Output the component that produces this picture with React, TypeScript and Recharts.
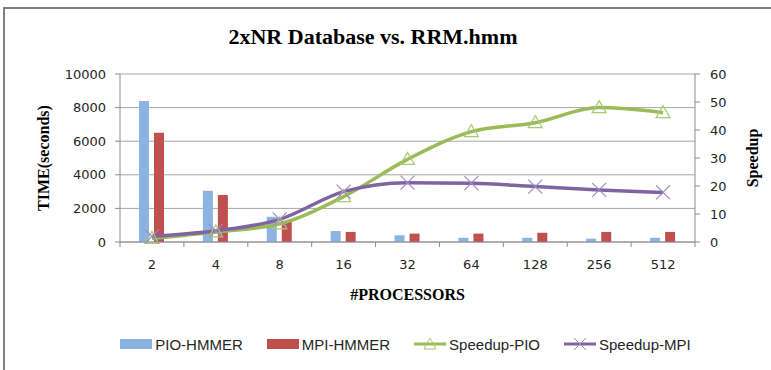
import React from "react";
import {
  ComposedChart,
  Bar,
  Line,
  XAxis,
  YAxis,
  CartesianGrid,
  Legend,
} from "recharts";

const processors = ["2", "4", "8", "16", "32", "64", "128", "256", "512"];
const pioHmmer = [8400, 3050, 1500, 650, 400, 250, 250, 200, 250];
const mpiHmmer = [6500, 2800, 1250, 600, 500, 500, 550, 600, 600];
const speedupPio = [1.3, 3.6, 6.5, 16.2, 29.5, 39.4, 42.6, 48, 46.2];
const speedupMpi = [2, 4, 8.1, 18, 21.2, 21, 19.8, 18.6, 17.7];
const timeTicks = [0, 2000, 4000, 6000, 8000, 10000];
const speedTicks = [0, 10, 20, 30, 40, 50, 60];
const seriesOrder = ["pio", "mpi", "spio", "smpi"];

const data = processors.map((p, i) => ({
  p,
  pio: pioHmmer[i],
  mpi: mpiHmmer[i],
  spio: speedupPio[i],
  smpi: speedupMpi[i],
}));

const BLUE = "#8db3e2";
const RED = "#c0504d";
const GREEN = "#9bbb59";
const PURPLE = "#8064a2";
const AXIS = "#8c8c8c";
const SANS = "DejaVu Sans, sans-serif";
const SERIF = "Liberation Serif, Times New Roman, serif";

const Triangle = (props: any) => {
  const { cx, cy } = props;
  if (cx == null || cy == null) return null;
  return (
    <polygon
      points={`${cx},${cy - 7} ${cx - 7},${cy + 5} ${cx + 7},${cy + 5}`}
      fill="none"
      stroke="#a9c86f"
      strokeWidth={1.2}
    />
  );
};

const Cross = (props: any) => {
  const { cx, cy } = props;
  if (cx == null || cy == null) return null;
  return (
    <g stroke="#9d8bc0" strokeWidth={1.2}>
      <line x1={cx - 7} y1={cy - 7} x2={cx + 7} y2={cy + 7} />
      <line x1={cx - 7} y1={cy + 7} x2={cx + 7} y2={cy - 7} />
    </g>
  );
};

// category labels + tick marks on the band boundaries, like Excel
const CatTick = (props: any) => {
  const { x, y, payload, index } = props;
  const half = payload.offset ?? 32;
  const axisY = y - 18;
  return (
    <g>
      <line x1={x - half} y1={axisY} x2={x - half} y2={axisY + 5} stroke={AXIS} />
      {index === processors.length - 1 && (
        <line x1={x + half} y1={axisY} x2={x + half} y2={axisY + 5} stroke={AXIS} />
      )}
      <text x={x} y={y} dy="0.71em" textAnchor="middle" fontSize={13} fontFamily={SANS} fill="#262626">
        {payload.value}
      </text>
    </g>
  );
};

const LegendBox = (props: any) => {
  const items = [...(props.payload || [])].sort(
    (a: any, b: any) => seriesOrder.indexOf(a.dataKey) - seriesOrder.indexOf(b.dataKey)
  );
  return (
    <div
      style={{
        display: "flex",
        justifyContent: "center",
        gap: 24,
        height: 20,
        alignItems: "center",
        fontFamily: "Liberation Sans, Arial, sans-serif",
        fontSize: 15,
        color: "#262626",
        paddingLeft: 40,
      }}
    >
      {items.map((it: any) => (
        <div key={it.dataKey} style={{ display: "flex", alignItems: "center" }}>
          <svg width={32} height={14} style={{ marginRight: 3 }}>
            {it.dataKey === "pio" && <rect x={0} y={2} width={32} height={10} fill={BLUE} />}
            {it.dataKey === "mpi" && <rect x={0} y={2} width={32} height={10} fill={RED} />}
            {it.dataKey === "spio" && (
              <g>
                <line x1={0} y1={7} x2={32} y2={7} stroke={GREEN} strokeWidth={3} />
                <polygon points="16,1 10,12 22,12" fill="none" stroke="#a9c86f" strokeWidth={1} />
              </g>
            )}
            {it.dataKey === "smpi" && (
              <g>
                <line x1={0} y1={7} x2={32} y2={7} stroke={PURPLE} strokeWidth={3} />
                <line x1={10} y1={1} x2={22} y2={13} stroke="#9d8bc0" strokeWidth={1} />
                <line x1={10} y1={13} x2={22} y2={1} stroke="#9d8bc0" strokeWidth={1} />
              </g>
            )}
          </svg>
          <span>{it.value}</span>
        </div>
      ))}
    </div>
  );
};

export default function App() {
  return (
    <div
      style={{
        position: "absolute",
        left: 0,
        top: 0,
        width: 771,
        height: 370,
        background: "#fff",
        overflow: "hidden",
      }}
    >
      <div
        style={{
          position: "absolute",
          left: 3,
          top: 7,
          width: 820,
          height: 420,
          border: "2px solid #808080",
        }}
      />
      <div
        style={{
          position: "absolute",
          left: 0,
          top: 24,
          width: 746,
          textAlign: "center",
          fontFamily: SERIF,
          fontWeight: "bold",
          fontSize: 22,
          color: "#000",
        }}
      >
        2xNR Database vs. RRM.hmm
      </div>
      <div style={{ position: "absolute", left: 0, top: 0 }}>
        <ComposedChart
          width={771}
          height={370}
          data={data}
          margin={{ top: 74, right: 0, bottom: 16, left: 0 }}
          barSize={10}
          barGap={5}
        >
          <CartesianGrid yAxisId="left" vertical={false} stroke="#a6a6a6" />
          <XAxis
            dataKey="p"
            height={92}
            axisLine={{ stroke: AXIS }}
            tickLine={false}
            tickSize={5}
            tickMargin={13}
            tick={<CatTick />}
            interval={0}
            label={{
              value: "#PROCESSORS",
              position: "insideTop",
              offset: 47,
              style: { fontFamily: SERIF, fontWeight: "bold", fontSize: 16, fill: "#000" },
            }}
          />
          <YAxis
            yAxisId="left"
            width={120}
            domain={[0, 10000]}
            ticks={timeTicks}
            axisLine={{ stroke: AXIS }}
            tickLine={{ stroke: AXIS }}
            tickSize={5}
            tickMargin={9}
            tick={{ fontSize: 13, fontFamily: SANS, fill: "#262626" }}
            label={{
              value: "TIME(seconds)",
              angle: -90,
              position: "insideLeft",
              offset: 43,
              style: { textAnchor: "middle", fontFamily: SERIF, fontWeight: "bold", fontSize: 16, fill: "#000" },
            }}
          />
          <YAxis
            yAxisId="right"
            orientation="right"
            width={76}
            domain={[0, 60]}
            ticks={speedTicks}
            axisLine={{ stroke: AXIS }}
            tickLine={{ stroke: AXIS }}
            tickSize={5}
            tickMargin={10}
            tick={{ fontSize: 13, fontFamily: SANS, fill: "#262626" }}
            label={{
              value: "Speedup",
              angle: -90,
              position: "insideRight",
              offset: 19,
              style: { textAnchor: "middle", fontFamily: SERIF, fontWeight: "bold", fontSize: 16, fill: "#000" },
            }}
          />
          <Bar yAxisId="left" dataKey="pio" name="PIO-HMMER" fill={BLUE} isAnimationActive={false} />
          <Bar yAxisId="left" dataKey="mpi" name="MPI-HMMER" fill={RED} isAnimationActive={false} />
          <Line
            yAxisId="right"
            type="monotone"
            dataKey="spio"
            name="Speedup-PIO"
            stroke={GREEN}
            strokeWidth={3.5}
            dot={<Triangle />}
            activeDot={false}
            isAnimationActive={false}
          />
          <Line
            yAxisId="right"
            type="monotone"
            dataKey="smpi"
            name="Speedup-MPI"
            stroke={PURPLE}
            strokeWidth={3.5}
            dot={<Cross />}
            activeDot={false}
            isAnimationActive={false}
          />
          <Legend verticalAlign="bottom" height={20} content={<LegendBox />} />
        </ComposedChart>
      </div>
    </div>
  );
}
